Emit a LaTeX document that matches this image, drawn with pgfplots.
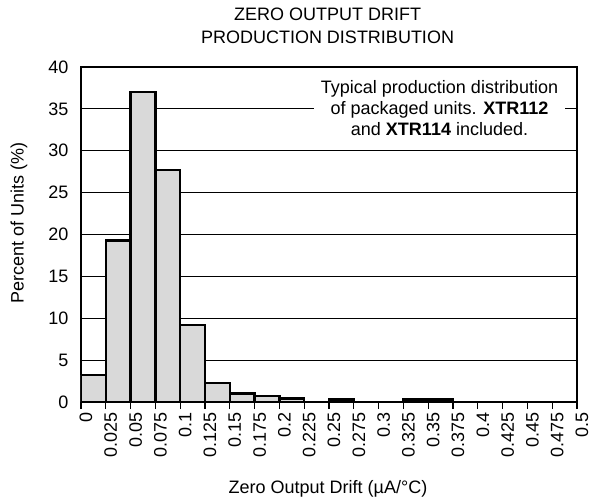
\documentclass[border=0pt]{standalone}
\usepackage{pgfplots}
\pgfplotsset{compat=1.18}
\usepackage{fontspec}
\setmainfont{Liberation Sans}
\begin{document}
\begin{tikzpicture}[x=1bp,y=1bp]
\begin{axis}[
  scale only axis,
  width=496bp, height=335bp,
  at={(0,0)}, anchor=south west,
  xmin=0, xmax=0.5, ymin=0, ymax=40,
  /pgf/number format/assume math mode=true,
  xtick={0,0.025,...,0.5},
  xticklabels={0,0.025,0.05,0.075,0.1,0.125,0.15,0.175,0.2,0.225,0.25,0.275,0.3,0.325,0.35,0.375,0.4,0.425,0.45,0.475,0.5},
  xticklabel style={rotate=90, anchor=east, yshift=-5bp, font=\fontsize{18bp}{20bp}\selectfont},
  ytick={0,5,...,40},
  yticklabel style={xshift=-9bp, font=\fontsize{18bp}{20bp}\selectfont},
  ymajorgrids, grid style={black, line width=0.75bp},
  axis line style={line width=2.4bp},
  tick style={black, line width=1.2bp},
  ytick style={draw=none},
  xtick pos=bottom, ytick pos=left,
  major tick length=7bp,
  xtick align=outside,
  xlabel={Zero Output Drift (\textmu A/\textdegree C)},
  ylabel={Percent of Units (\%)},
  xlabel style={at={(axis description cs:0.498,-0.259)}, anchor=center, font=\fontsize{18bp}{20bp}\selectfont},
  ylabel style={at={(axis description cs:-0.125,0.534)}, anchor=center, rotate=0, font=\fontsize{18bp}{20bp}\selectfont},
  title={ZERO OUTPUT DRIFT\\PRODUCTION DISTRIBUTION},
  title style={at={(axis description cs:0.497,1.1045)}, anchor=center, font=\fontsize{18bp}{23.5bp}\selectfont, align=center},
]
\addplot[ybar interval, fill=black!15, draw=black, line width=2.4bp] coordinates {
(0,3.2) (0.025,19.3) (0.05,37.0) (0.075,27.7) (0.1,9.2) (0.125,2.3) (0.15,1.0) (0.175,0.7) (0.2,0.4) (0.225,0) (0.25,0.3) (0.275,0) (0.3,0) (0.325,0.3) (0.35,0.3) (0.375,0) (0.4,0) (0.425,0) (0.45,0) (0.475,0) (0.5,0)
};
\node[fill=white, align=center, inner xsep=7bp, inner ysep=2bp, font=\fontsize{18bp}{21bp}\selectfont] at (axis cs:0.3614,35.1) {Typical production distribution\\of packaged units. \textbf{XTR112}\\and \textbf{XTR114} included.};
\end{axis}
\path[use as bounding box] (-81,-98) rectangle (511,402);
\end{tikzpicture}
\end{document}
